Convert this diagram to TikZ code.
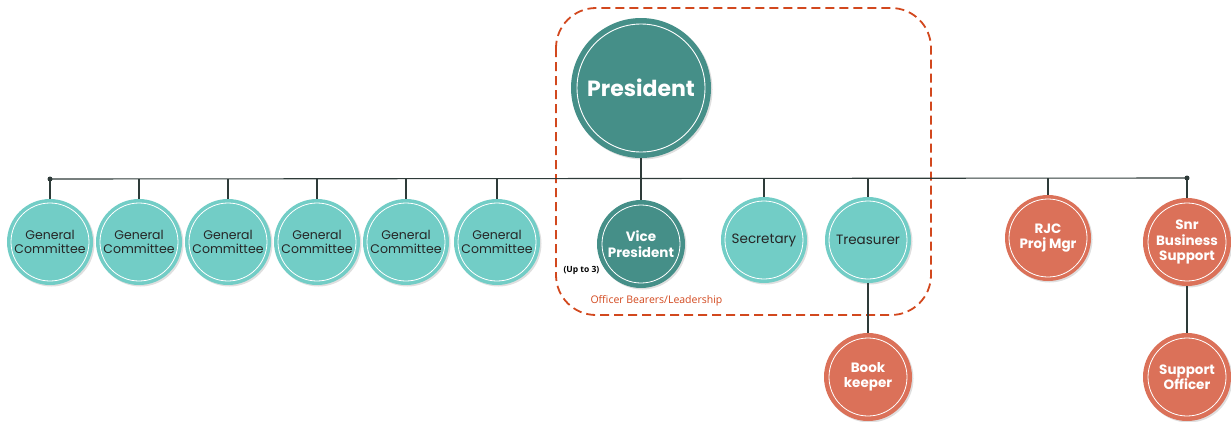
\documentclass[tikz,border=0pt]{standalone}
\usepackage{fontspec}
\setmainfont{Poppins}
\newfontfamily\notefont{Open Sans}
\usetikzlibrary{shadows}
\definecolor{lightteal}{HTML}{72CDC6}
\definecolor{darkteal}{HTML}{458F88}
\definecolor{coral}{HTML}{DB7159}
\definecolor{linegray}{HTML}{2E3B39}
\definecolor{dashred}{HTML}{D2481E}
\begin{document}
\begin{tikzpicture}[x=1pt,y=-1pt,
  role/.style={circle, minimum size=86pt, inner sep=0pt, align=center,
    drop shadow={shadow xshift=1.5pt, shadow yshift=-1.5pt, opacity=0.25},
    path picture={\draw[white, line width=0.8pt] (path picture bounding box.center) circle (39pt);}},
  member/.style={role, fill=lightteal, text=black!85, font=\fontsize{12.5}{14}\selectfont},
  officer/.style={role, fill=darkteal, text=white, font=\bfseries\fontsize{13.5}{15.5}\selectfont},
  staff/.style={role, fill=coral, text=white, font=\bfseries\fontsize{13.5}{15.5}\selectfont},
  link/.style={draw=linegray, line width=1.1pt},
  enddot/.style={circle, fill=linegray, inner sep=0pt, minimum size=5pt}]
\useasboundingbox (0,0) rectangle (1231,421);

% officer bearers group
\draw[dashred, line width=1.8pt, dash pattern=on 9pt off 5pt, rounded corners=40pt]
  (556,8) rectangle (931,315);
\node[text=dashred, font=\notefont\fontsize{10.5}{12}\selectfont, anchor=west] (grp) at (587,301) {Officer Bearers/Leadership};

% main bar
\node[enddot] (barL) at (50,179) {};
\node[enddot] (barR) at (1187,178) {};
\draw[link] (barL.center) -- (barR.center);

% president
\node[role, fill=darkteal, minimum size=140pt, text=white, font=\bfseries\fontsize{22}{24}\selectfont,
  path picture={\draw[white, line width=0.9pt] (path picture bounding box.center) circle (64pt);}]
  (pres) at (641,88) {President};

% general committee
\foreach \i/\x in {1/50, 2/139, 3/228, 4/317, 5/406, 6/497} {
  \node[member] (gc\i) at (\x,242) {General\\Committee};
  \draw[link] (gc\i.north) -- (\x,179);
}

% officers
\node[officer, minimum size=88pt] (vp) at (641,244) {Vice\\President};
\node[font=\notefont\bfseries\fontsize{8.5}{10}\selectfont, text=black, anchor=west] (upto) at (560,270) {(Up to 3)};
\node[member, font=\fontsize{13.5}{15}\selectfont] (sec) at (764,240) {Secretary};
\node[member, font=\fontsize{13.5}{15}\selectfont] (tre) at (868,240) {Treasurer};
\node[staff, minimum size=88pt] (book) at (868,377) {Book\\keeper};

% staff
\node[staff] (rjc) at (1048,238) {RJC\\Proj Mgr};
\node[staff, minimum size=88pt] (snr) at (1187,242) {Snr\\Business\\Support};
\node[staff, minimum size=88pt] (sup) at (1187,377) {Support\\Officer};

% connectors
\draw[link] (pres.south) -- (vp.north);
\draw[link] (sec.north) -- (764,179);
\draw[link] (tre.north) -- (868,179);
\draw[link] (rjc.north) -- (1048,178);
\draw[link] (snr.north) -- (barR.center);
\draw[link] (tre.south) -- (book.north);
\draw[link] (snr.south) -- (sup.north);
\end{tikzpicture}
\end{document}
